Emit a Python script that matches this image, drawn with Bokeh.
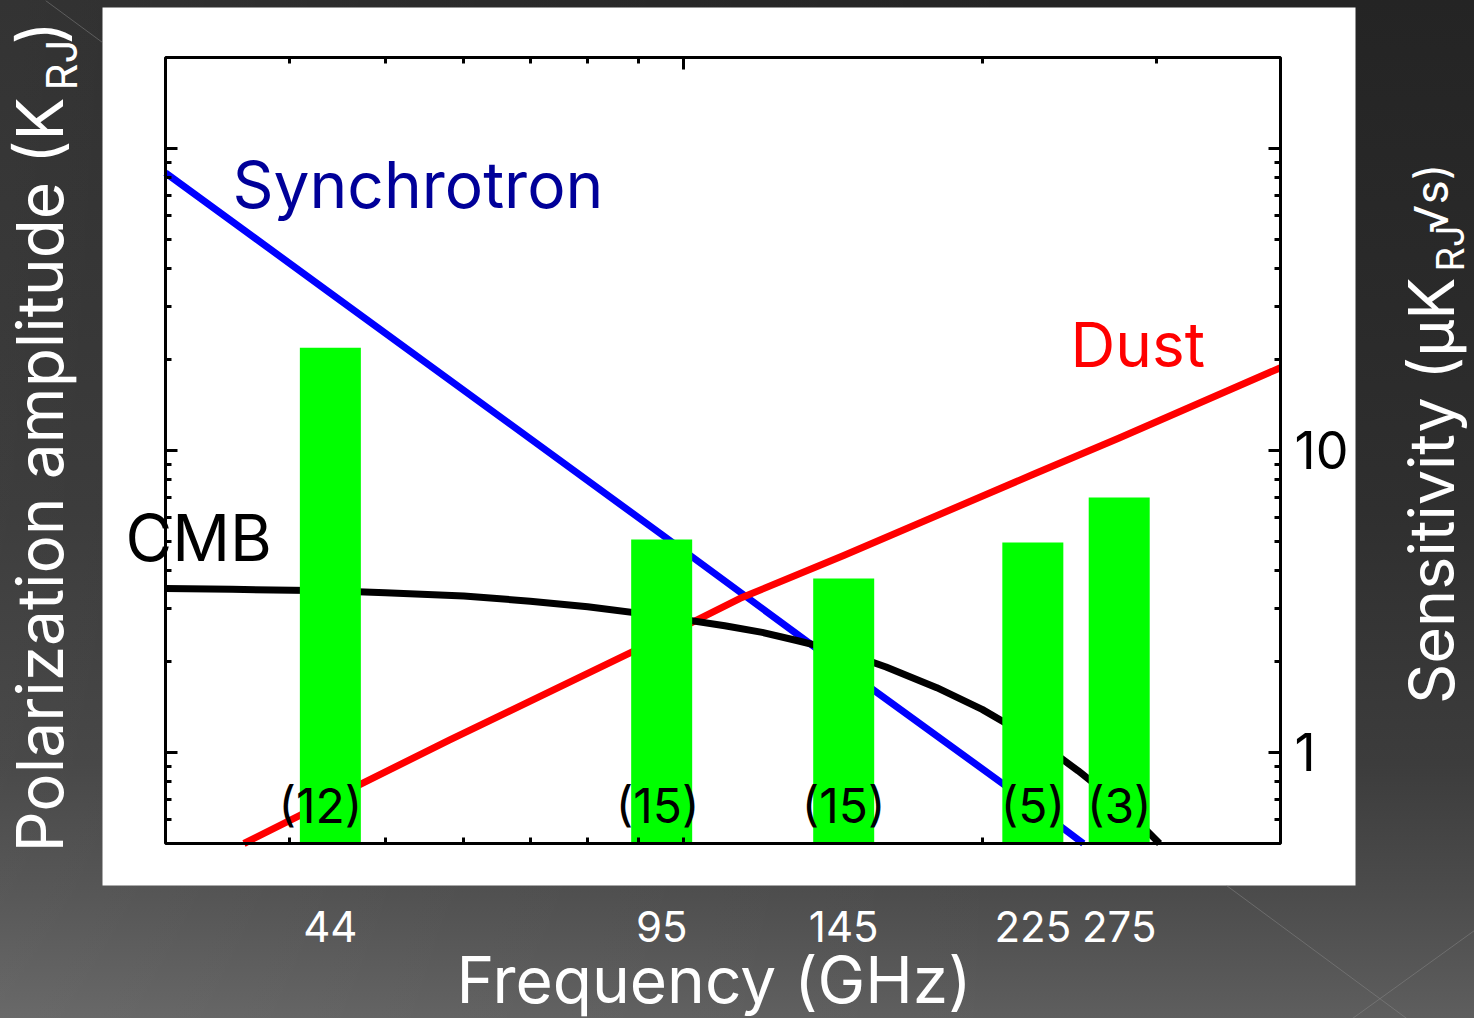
import math
from bokeh.plotting import figure
from bokeh.models import (Range1d, LinearScale, LogAxis, FixedTicker, Label,
                          BoxAnnotation, BasicTickFormatter)
from bokeh.core.properties import value
from bokeh.embed import file_html
from bokeh.resources import INLINE

# ---------------- data ----------------
bands_ghz = [44, 95, 145, 225, 275]
band_labels = ["44", "95", "145", "225", "275"]
sensitivity = [21.9, 5.07, 3.77, 4.96, 6.99]          # uK_RJ sqrt(s), bar tops
detectors = ["(12)", "(15)", "(15)", "(5)", "(3)"]

sync_freq = [30, 44, 95, 145, 225, 253]
sync_amp = [83.0, 33.2, 5.27, 1.90, 0.668, 0.50]

dust_freq = [36, 41, 47, 58, 95, 114, 145, 225, 275, 400]
dust_amp = [0.50, 0.62, 0.78, 1.10, 2.40, 3.24, 4.49, 8.33, 11.0, 18.8]

cmb_freq = [30, 35, 44, 50, 60, 70, 80, 95, 110, 120, 130, 145, 160, 180, 200,
            225, 240, 250, 260, 275, 290, 302]
cmb_amp = [3.49, 3.47, 3.43, 3.38, 3.30, 3.17, 3.04, 2.83, 2.63, 2.50, 2.35, 2.15,
           1.92, 1.64, 1.39, 1.11, 0.96, 0.87, 0.786, 0.655, 0.572, 0.50]

x_minor_ticks = [40, 50, 60, 70, 80, 90, 100, 200, 300]
x_top_major = [100]
x_top_minor = [40, 50, 60, 70, 80, 90, 200, 300]
y_major_ticks = [1, 10, 100]
y_minor_ticks = [0.6, 0.7, 0.8, 0.9, 2, 3, 4, 5, 6, 7, 8, 9,
                 20, 30, 40, 50, 60, 70, 80, 90]

# ---------------- layout constants ----------------
W, H = 1474, 1018
FL, FR, FT, FB = 165, 1280, 57, 843          # plot box edges in page pixels
X0, X1 = 30, 400                             # plot box data limits
Y0, Y1 = 0.5, 200
FONT = "Inter"
xdec = (FR - FL) / math.log10(X1 / X0)       # pixels per decade
ydec = (FB - FT) / math.log10(Y1 / Y0)
half_dec = 30.5 / xdec                       # half bar width in decades

# the frame fills the page; the data box sits inside it
xr = Range1d(10 ** (math.log10(X0) - FL / xdec), 10 ** (math.log10(X1) + (W - FR) / xdec))
yr_ = Range1d(10 ** (math.log10(Y0) - (H - FB) / ydec), 10 ** (math.log10(Y1) + FT / ydec))

bg = ("linear-gradient(90deg, rgba(255,255,255,0.07) 0%, rgba(255,255,255,0.03) 30%, "
      "rgba(255,255,255,0) 70%), "
      "linear-gradient(180deg, #242424 0%, #2a2a2a 30%, #2f2f2f 50%, #3c3c3c 75%, "
      "#4c4c4c 88%, #5e5e5e 100%)")

p = figure(width=W, height=H, x_axis_type="log", y_axis_type="log",
           x_range=xr, y_range=yr_,
           output_backend="svg", toolbar_location=None, title_location=None,
           min_border_left=0, min_border_right=0, min_border_top=0, min_border_bottom=0,
           border_fill_color=None, background_fill_color=None, outline_line_color=None,
           styles={"background": bg})
p.grid.visible = False

# page-pixel helper ranges for decorations / titles
p.extra_x_ranges = {"px": Range1d(0, W)}
p.extra_y_ranges = {"px": Range1d(H, 0)}
p.extra_x_scales = {"px": LinearScale()}
p.extra_y_scales = {"px": LinearScale()}

# faint diagonal lines of the slide background
p.segment(x0=[45, 1226, 1474], y0=[0, 885, 930], x1=[102, 1474, 1352], y1=[42, 1068, 1018],
          x_range_name="px", y_range_name="px", line_color="#8a8a8a", line_alpha=0.5, line_width=1)

# white panel behind the plot
p.add_layout(BoxAnnotation(left=102, right=1355, top=7, bottom=885,
                           x_range_name="px", y_range_name="px",
                           fill_color="white", fill_alpha=1.0, line_color=None,
                           level="underlay"))

# ---------------- curves ----------------
p.line(sync_freq, sync_amp, line_color="#0000FF", line_width=7)
p.line(dust_freq, dust_amp, line_color="#FF0000", line_width=7, line_join="round")
p.line(cmb_freq, cmb_amp, line_color="black", line_width=7, line_join="round")

# ---------------- bars ----------------
lefts = [f * 10 ** (-half_dec) for f in bands_ghz]
rights = [f * 10 ** (half_dec) for f in bands_ghz]
p.quad(left=lefts, right=rights, bottom=Y0, top=sensitivity,
       fill_color="#00FF00", line_color=None)

p.text(x=bands_ghz, y=0.668, text=detectors, text_font=value(FONT),
       text_font_size="48px", text_color="black", x_offset=[-10, -4, 0, 0, 0],
       text_align="center", text_baseline="middle")

# plot box outline
p.add_layout(BoxAnnotation(left=X0, right=X1, bottom=Y0, top=Y1, fill_color=None,
                           fill_alpha=0, line_color="black", line_alpha=1.0, line_width=3))

# ---------------- axes (pinned to the data box) ----------------
TW = 3
xa = p.xaxis[0]
xa.fixed_location = Y0
xa.bounds = (X0, X1)
xa.ticker = FixedTicker(ticks=bands_ghz, minor_ticks=x_minor_ticks)
xa.formatter = BasicTickFormatter()
xa.major_label_overrides = {f: s for f, s in zip(bands_ghz, band_labels)}
xa.major_tick_line_color = None
xa.major_tick_in = 0
xa.major_tick_out = 0
xa.minor_tick_in = 6
xa.minor_tick_out = 0
xa.minor_tick_line_width = TW
xa.minor_tick_line_color = "black"
xa.axis_line_color = None
xa.major_label_text_color = "white"
xa.major_label_text_font = FONT
xa.major_label_text_font_size = "42px"
xa.major_label_standoff = 67

top = LogAxis(ticker=FixedTicker(ticks=x_top_major, minor_ticks=x_top_minor),
              formatter=BasicTickFormatter(), fixed_location=Y1, bounds=(X0, X1),
              major_tick_in=12, major_tick_out=0, minor_tick_in=6, minor_tick_out=0,
              major_tick_line_width=TW, minor_tick_line_width=TW,
              axis_line_color=None, major_label_text_alpha=0,
              major_label_text_font_size="10px", major_label_standoff=0)
p.add_layout(top, "above")

ya = p.yaxis[0]
ya.fixed_location = X0
ya.bounds = (Y0, Y1)
ya.ticker = FixedTicker(ticks=y_major_ticks, minor_ticks=y_minor_ticks)
ya.formatter = BasicTickFormatter()
ya.major_tick_in = 12
ya.major_tick_out = 0
ya.minor_tick_in = 6
ya.minor_tick_out = 0
ya.major_tick_line_width = TW
ya.minor_tick_line_width = TW
ya.axis_line_color = None
ya.major_label_text_alpha = 0
ya.major_label_text_font_size = "10px"

yr = LogAxis(ticker=FixedTicker(ticks=y_major_ticks, minor_ticks=y_minor_ticks),
             formatter=BasicTickFormatter(), fixed_location=X1, bounds=(Y0, Y1),
             major_tick_in=12, major_tick_out=0, minor_tick_in=6, minor_tick_out=0,
             major_tick_line_width=TW, minor_tick_line_width=TW,
             axis_line_color=None, major_label_standoff=14,
             major_label_text_font=FONT, major_label_text_font_size="52px",
             major_label_text_color="black",
             major_label_overrides={1: "1", 10: "10", 100: " "})
p.add_layout(yr, "right")

# ---------------- text labels ----------------
def lab(x, y, text, size, color, angle=0.0, align="left"):
    p.add_layout(Label(x=x, y=y, text=text, x_range_name="px", y_range_name="px",
                       text_font=FONT, text_font_size=size, text_color=color,
                       angle=angle, text_align=align, text_baseline="middle"))

lab(232, 184, "Synchrotron", "64px", "#000099")
lab(1070, 344, "Dust", "62px", "#FF0000")
lab(125, 537, "CMB", "64px", "black")
lab(456, 979, "Frequency (GHz)", "64px", "white")

rot = math.pi / 2
lab(39, 97, "Polarization amplitude (K", "64px", "white", rot, "right")
lab(61, 90, "RJ", "42px", "white", rot, "left")
lab(39, 44, ")", "64px", "white", rot, "left")

lab(1430, 277, "Sensitivity (\u03bcK", "63px", "white", rot, "right")
lab(1449, 271, "RJ", "38px", "white", rot, "left")
lab(1430, 233, "\u221as)", "46px", "white", rot, "left")

open("out.html", "w").write(file_html(p, INLINE))
